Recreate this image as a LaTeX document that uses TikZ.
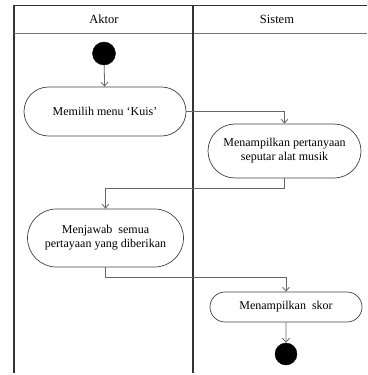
\documentclass[tikz,border=0pt]{standalone}
\usepackage{fontspec}
\setmainfont{Liberation Serif}
\usepackage{tikz}
\usetikzlibrary{arrows.meta,positioning,shapes.misc}

\begin{document}
\begin{tikzpicture}[x=1pt, y=1pt, font=\fontsize{12}{14}\selectfont,
  lane/.style={black!80, line width=1.3pt},
  act/.style={rounded rectangle, draw=black!75, line width=0.7pt, align=center, inner sep=2pt},
  dot/.style={circle, fill=black, draw=black, minimum size=23pt, inner sep=0pt},
  flow/.style={black!60, line width=0.8pt, -{Straight Barb[length=4pt, width=7pt]}}]
  \useasboundingbox (0,0) rectangle (367,-375);
  % swimlanes
  \draw[lane] (14,-373) -- (14,-5.5) -- (367,-5.5);
  \draw[lane, black!55, line width=1pt] (14,-33) -- (367,-33);
  \draw[lane] (193,-5.5) -- (193,-373);
  \node[font=\fontsize{12.5}{14}\selectfont] (aktor) at (104,-19) {Aktor};
  \node[font=\fontsize{12.5}{14}\selectfont] (sistem) at (277,-19) {Sistem};
  % activities
  \node[dot] (start) at (104,-53.5) {};
  \node[act, minimum width=166pt, minimum height=49pt] (kuis) at (105,-111.5) {Memilih menu `Kuis'};
  \node[act, minimum width=157pt, minimum height=54pt] (tanya) at (284.5,-151) {Menampilkan pertanyaan\\seputar alat musik};
  \node[act, minimum width=160pt, minimum height=58pt] (jawab) at (105.5,-238) {Menjawab\ \ semua\\pertayaan yang diberikan};
  \node[act, minimum width=156pt, minimum height=30pt] (skor) at (286,-307) {Menampilkan\ \ skor};
  \node[dot, minimum size=22pt] (end) at (286,-354) {};
  % transitions
  \draw[flow] (start) -- (kuis);
  \draw[flow] (kuis.east) -| (tanya.north);
  \draw[flow] (tanya.south) -- ++(0,-10) -| (jawab.north);
  \draw[flow] (jawab.south) -- ++(0,-10) -| (skor.north);
  \draw[flow] (skor) -- (end);
\end{tikzpicture}
\end{document}
